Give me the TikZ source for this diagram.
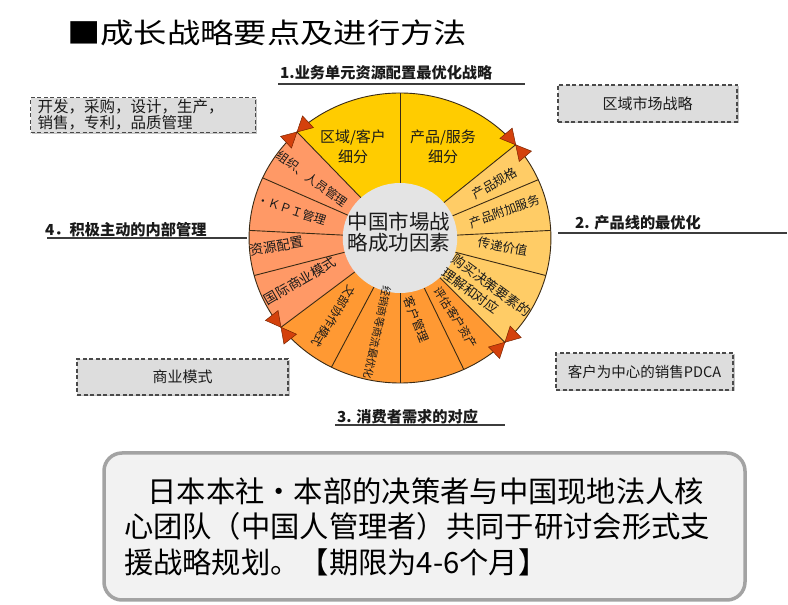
\documentclass[tikz,border=0pt]{standalone}
\usepackage{fontspec}
\newfontfamily\cjk{Noto Sans CJK SC}
\newfontfamily\song{Noto Sans CJK SC}
\usetikzlibrary{shadows}
\definecolor{cTop}{HTML}{FFCC00}
\definecolor{cRight}{HTML}{FFCC66}
\definecolor{cLeft}{HTML}{FF9966}
\definecolor{cBottom}{HTML}{FF9933}
\definecolor{cCore}{HTML}{E4E4E4}
\definecolor{cLine}{HTML}{3A2A14}
\definecolor{cTri}{HTML}{D4410C}
\definecolor{cTriEdge}{HTML}{7A2400}
\definecolor{cBox}{HTML}{DDDDDD}
\definecolor{cShadow}{HTML}{C4C4C4}
\definecolor{cDash}{HTML}{4A4A4A}
\definecolor{cRoundEdge}{HTML}{A3A3A3}
\definecolor{cRoundFill}{HTML}{F2F2F2}
\definecolor{cRule}{HTML}{3C3C3C}
\definecolor{cText}{HTML}{1A1A1A}
\tikzset{
  divider/.style={draw=cLine, line width=0.9pt},
  seg/.style={text=cText, inner sep=0pt, align=center},
  secttl/.style={font=\cjk\bfseries\fontsize{15.2}{16}\selectfont, text=cText, anchor=west, inner sep=0pt},
  rulebar/.style={draw=cRule, line width=1.3pt},
  dbox/.style={fill=cBox, draw=cDash, dash pattern=on 4pt off 2.5pt, line width=1.1pt, inner sep=0pt,
    drop shadow={shadow xshift=1.5pt, shadow yshift=-1.5pt, fill=cShadow, opacity=1}},
  tri/.style={fill=cTri, draw=cTriEdge, line width=0.5pt, line join=miter},
}
\begin{document}
\begin{tikzpicture}[x=1pt,y=1pt]
\useasboundingbox (0,0) rectangle (788,605);
\fill[white] (0,0) rectangle (788,605);

% title
\node[font=\cjk\fontsize{28}{28}\selectfont, anchor=west, inner sep=0pt, xscale=1.19, transform shape, text=black] (title) at (67,572) {■成长战略要点及进行方法};

% wheel
\begin{scope}[shift={(400,367)}, xscale=1.041]
  \fill[cTop] (0,0) -- (40:145) arc[start angle=40, end angle=133, radius=145] -- cycle;
  \fill[cLeft] (0,0) -- (133:145) arc[start angle=133, end angle=218, radius=145] -- cycle;
  \fill[cBottom] (0,0) -- (218:145) arc[start angle=218, end angle=314, radius=145] -- cycle;
  \fill[cRight] (0,0) -- (314:145) arc[start angle=314, end angle=400, radius=145] -- cycle;
  \foreach \a in {40,90,133,155.5,177,195,218,243,270,295,314,345,3,23.7}
    \draw[divider] (\a:55) -- (\a:145);
  \draw[cLine, line width=0.9pt] (0,0) circle[radius=145];
  \fill[cCore] (0,0) circle[radius=55];
  % right
  \node[seg, font=\cjk\fontsize{12.5}{14}\selectfont, rotate=30] (r1) at (31:106) {产品规格};
  \node[seg, font=\cjk\fontsize{12.3}{14}\selectfont, rotate=20] (r2) at (15:104) {产品附加服务};
  \node[seg, font=\cjk\fontsize{12.5}{14}\selectfont, rotate=-10] (r3) at (-5:99) {传递价值};
  \node[seg, font=\cjk\fontsize{13.5}{17}\selectfont, rotate=-36, align=left] (r4) at (-33:99) {购买决策要素的\\理解和对应};
  % left
  \node[seg, font=\cjk\fontsize{12}{14}\selectfont, rotate=-36] (l1) at (145:103) {组织、人员管理};
  \node[seg, font=\cjk\fontsize{12}{14}\selectfont, rotate=-18] (l2) at (165:108) {•ＫＰＩ管理};
  \node[seg, font=\cjk\fontsize{13.5}{14}\selectfont, rotate=10] (l3) at (184:119) {资源配置};
  \node[seg, font=\cjk\fontsize{13.4}{14}\selectfont, rotate=30] (l4) at (204:105) {国际商业模式};
  % bottom
  \node[seg, font=\cjk\fontsize{11.7}{14}\selectfont, rotate=238] (b1) at (231:101) {文部协作模式};
  \node[seg, font=\cjk\fontsize{10.6}{12}\selectfont, rotate=258] (b2) at (257:97) {经销商等商流最优化};
  \node[seg, font=\cjk\fontsize{12}{14}\selectfont, rotate=-68] (b3) at (281:83) {客户管理};
  \node[seg, font=\cjk\fontsize{11.5}{14}\selectfont, rotate=-58] (b4) at (304:96) {评估客户资产};
\end{scope}

% top texts
\node[seg, font=\cjk\fontsize{15}{20}\selectfont] (t1) at (353,458) {区域/客户\\细分};
\node[seg, font=\cjk\fontsize{15}{20}\selectfont] (t2) at (443,458) {产品/服务\\细分};
% core text
\node[seg, font=\cjk\fontsize{20.5}{20.5}\selectfont] (core) at (399,373) {中国市場战\\略成功因素};

% triangles
\coordinate (pA) at (297.0,473.0);
\coordinate (pB) at (515.7,460.2);
\coordinate (pC) at (504.9,262.7);
\coordinate (pD) at (281.0,277.7);
\foreach \p/\a in {pA/133,pB/40,pC/314,pD/218}{
  \begin{scope}[shift={(\p)}, rotate=\a]
    \filldraw[tri] (0,0) -- (-8,15) -- (8,15) -- cycle;
    \filldraw[tri] (0,0) -- (-8,-15) -- (8,-15) -- cycle;
  \end{scope}
}

% section labels
\node[secttl] (h1) at (280,532) {1.业务单元资源配置最优化战略};
\draw[rulebar] (278,521) -- (525,521);
\node[secttl] (h2) at (575,382) {2. 产品线的最优化};
\draw[rulebar] (558,372) -- (787,372);
\node[secttl] (h3) at (337,188) {3. 消费者需求的对应};
\draw[rulebar] (335,180) -- (505,180);
\node[secttl] (h4) at (45,375) {4．积极主动的内部管理};
\draw[rulebar] (47,367) -- (247,367);

% dashed boxes
\node[dbox, anchor=north west, minimum width=225pt, minimum height=35pt, text width=211pt, inner xsep=7pt, align=left,
  font=\song\fontsize{15.5}{16}\selectfont, text=cText] (bx1) at (30,508) {开发，采购，设计，生产，\\销售，专利，品质管理};
\node[dbox, minimum width=179pt, minimum height=37pt, font=\cjk\fontsize{15}{16}\selectfont, text=cText] (bx2) at (647.5,501.5) {区域市场战略};
\node[dbox, minimum width=211pt, minimum height=36pt, font=\cjk\fontsize{15}{16}\selectfont, text=cText] (bx3) at (182.5,228) {商业模式};
\node[dbox, minimum width=177pt, minimum height=37pt, font=\cjk\fontsize{14.5}{16}\selectfont, text=cText] (bx4) at (644.5,233.5) {客户为中心的销售PDCA};

% bottom note
\node[draw=cRoundEdge, fill=cRoundFill, line width=3.5pt, rounded corners=18pt, minimum height=147pt,
  text width=601pt, inner xsep=20pt, align=left, font=\song\fontsize{29.3}{35.5}\selectfont, text=black] (note) at (424.5,78.5)
  {\hspace*{0.8em}日本本社·本部的决策者与中国现地法人核\\心团队（中国人管理者）共同于研讨会形式支\\援战略规划。【期限为4-6个月】};
\end{tikzpicture}
\end{document}
